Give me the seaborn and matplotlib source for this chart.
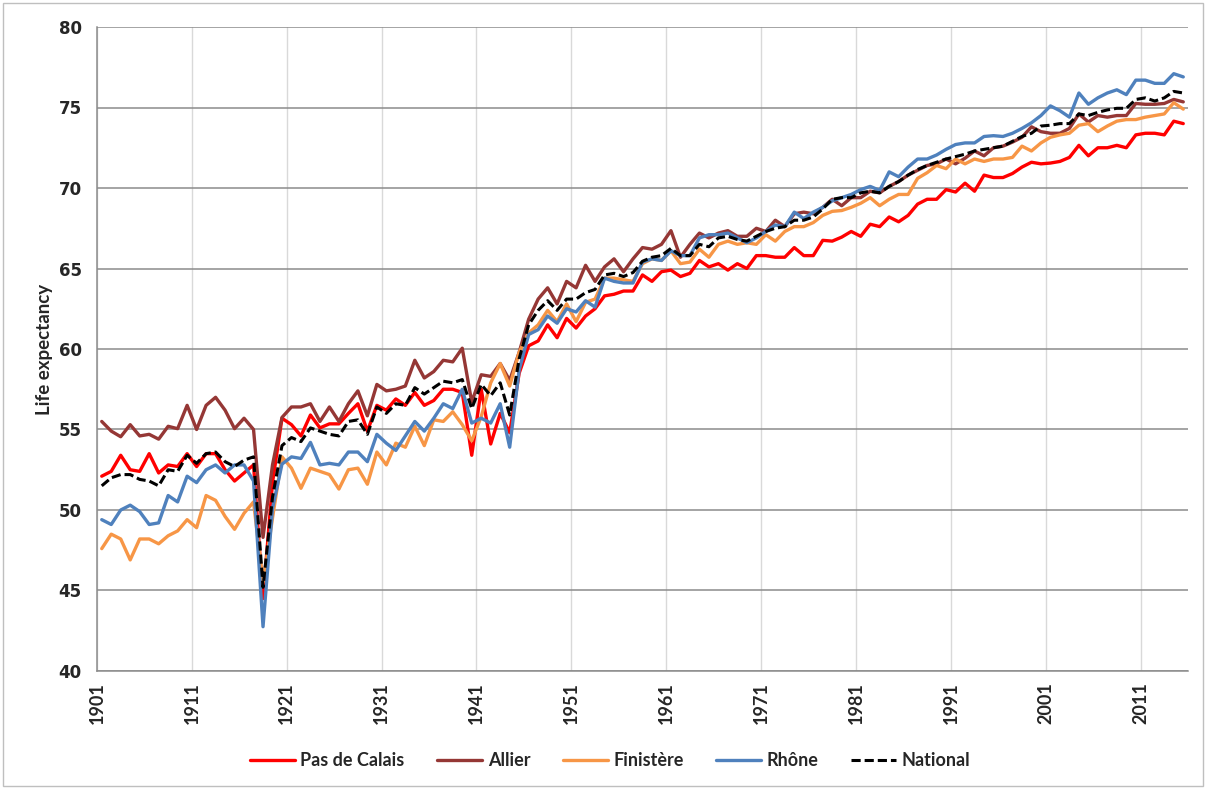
import numpy as np
import pandas as pd
import seaborn as sns
import matplotlib.pyplot as plt
from matplotlib.patches import Rectangle

# Life expectancy by department, 1901-2015
years = list(range(1901, 2016))

pas_de_calais = [
    52.1, 52.4, 53.4, 52.5, 52.4, 53.5, 52.3, 52.8, 52.7, 53.5,
    52.7, 53.5, 53.5, 52.5, 51.8, 52.3, 52.8, 44.5, 51.7, 55.7,
    55.3, 54.6, 55.9, 55.1, 55.35, 55.35, 56.0, 56.6, 54.9, 56.5,
    56.2, 56.9, 56.5, 57.3, 56.5, 56.8, 57.5, 57.5, 57.3, 53.4,
    57.5, 54.1, 56.0, 54.8, 58.5, 60.2, 60.5, 61.5, 60.7, 61.9,
    61.3, 62.05, 62.5, 63.3, 63.4, 63.6, 63.6, 64.6, 64.2, 64.8,
    64.9, 64.5, 64.7, 65.5, 65.1, 65.3, 64.9, 65.3, 65.0, 65.8,
    65.8, 65.7, 65.7, 66.3, 65.8, 65.8, 66.75, 66.7, 66.95, 67.3,
    67.0, 67.75, 67.6, 68.2, 67.9, 68.3, 69.0, 69.3, 69.3, 69.9,
    69.75, 70.3, 69.8, 70.8, 70.65, 70.65, 70.9, 71.3, 71.6, 71.5,
    71.55, 71.65, 71.9, 72.65, 72.0, 72.5, 72.5, 72.65, 72.5, 73.3,
    73.4, 73.4, 73.3, 74.15, 74.0]

allier = [
    55.5, 54.9, 54.55, 55.3, 54.6, 54.7, 54.4, 55.2, 55.05, 56.5,
    55.0, 56.5, 57.0, 56.2, 55.05, 55.7, 55.0, 48.3, 52.8, 55.75,
    56.4, 56.4, 56.6, 55.5, 56.4, 55.5, 56.6, 57.4, 55.85, 57.8,
    57.4, 57.5, 57.7, 59.3, 58.2, 58.6, 59.3, 59.2, 60.05, 56.7,
    58.4, 58.3, 59.1, 58.05, 59.8, 61.85, 63.1, 63.8, 62.8, 64.2,
    63.8, 65.2, 64.2, 65.1, 65.6, 64.8, 65.6, 66.3, 66.2, 66.5,
    67.35, 65.7, 66.5, 67.2, 66.9, 67.2, 67.35, 67.0, 67.0, 67.5,
    67.3, 68.0, 67.6, 68.4, 68.5, 68.4, 68.8, 69.3, 68.9, 69.4,
    69.4, 69.8, 69.7, 70.1, 70.4, 70.8, 71.1, 71.4, 71.5, 71.8,
    71.5, 71.85, 72.3, 72.0, 72.5, 72.6, 72.85, 73.15, 73.8, 73.5,
    73.4, 73.4, 73.7, 74.6, 74.1, 74.5, 74.4, 74.5, 74.5, 75.25,
    75.2, 75.2, 75.25, 75.5, 75.35]

finistere = [
    47.6, 48.5, 48.2, 46.9, 48.2, 48.2, 47.9, 48.4, 48.7, 49.4,
    48.9, 50.9, 50.6, 49.6, 48.8, 49.8, 50.5, 45.5, 49.5, 53.3,
    52.6, 51.35, 52.6, 52.4, 52.2, 51.3, 52.5, 52.6, 51.6, 53.6,
    52.8, 54.15, 53.9, 55.2, 54.0, 55.6, 55.5, 56.1, 55.3, 54.3,
    55.8, 57.9, 59.1, 57.7, 59.8, 61.0, 61.5, 62.4, 61.7, 62.8,
    61.7, 62.9, 63.1, 64.4, 64.4, 64.3, 64.2, 65.3, 65.6, 65.5,
    66.1, 65.3, 65.4, 66.2, 65.7, 66.5, 66.7, 66.5, 66.6, 66.5,
    67.1, 66.7, 67.3, 67.6, 67.6, 67.85, 68.3, 68.55, 68.6, 68.8,
    69.05, 69.4, 68.9, 69.3, 69.6, 69.6, 70.6, 70.95, 71.4, 71.2,
    71.8, 71.5, 71.8, 71.65, 71.8, 71.8, 71.9, 72.6, 72.3, 72.8,
    73.15, 73.3, 73.4, 73.9, 74.0, 73.5, 73.85, 74.15, 74.25, 74.25,
    74.4, 74.5, 74.6, 75.3, 74.9]

rhone = [
    49.4, 49.1, 50.0, 50.3, 49.9, 49.1, 49.2, 50.9, 50.5, 52.1,
    51.7, 52.5, 52.8, 52.3, 52.8, 52.8, 51.8, 42.75, 50.1, 52.85,
    53.3, 53.2, 54.2, 52.8, 52.9, 52.8, 53.6, 53.6, 53.0, 54.7,
    54.15, 53.7, 54.6, 55.5, 54.9, 55.7, 56.6, 56.3, 57.5, 55.4,
    55.7, 55.4, 56.6, 53.9, 58.7, 60.9, 61.2, 62.05, 61.6, 62.5,
    62.3, 63.0, 62.6, 64.4, 64.2, 64.1, 64.1, 65.4, 65.6, 65.5,
    66.1, 65.8, 65.8, 66.9, 67.1, 67.1, 67.2, 66.9, 66.6, 66.9,
    67.3, 67.7, 67.6, 68.5, 68.1, 68.5, 68.8, 69.2, 69.4, 69.6,
    69.9, 70.1, 69.85, 71.0, 70.7, 71.3, 71.8, 71.8, 72.05, 72.4,
    72.7, 72.8, 72.8, 73.2, 73.25, 73.2, 73.4, 73.7, 74.05, 74.5,
    75.1, 74.8, 74.4, 75.9, 75.2, 75.6, 75.9, 76.1, 75.8, 76.7,
    76.7, 76.5, 76.5, 77.1, 76.9]

national = [
    51.5, 52.0, 52.2, 52.2, 51.9, 51.8, 51.5, 52.5, 52.4, 53.4,
    52.9, 53.5, 53.6, 53.0, 52.7, 53.1, 53.3, 45.2, 50.8, 54.0,
    54.5, 54.25, 55.1, 54.9, 54.7, 54.6, 55.5, 55.6, 54.7, 56.4,
    56.0, 56.6, 56.5, 57.6, 57.2, 57.6, 58.0, 57.9, 58.1, 56.3,
    57.8, 57.1, 57.9, 55.9, 59.4, 61.5, 62.4, 63.0, 62.4, 63.1,
    63.1, 63.5, 63.7, 64.6, 64.7, 64.5, 64.75, 65.45, 65.7, 65.8,
    66.25, 65.8, 65.8, 66.5, 66.35, 66.9, 67.0, 66.8, 66.7, 67.0,
    67.3, 67.5, 67.6, 68.0, 68.0, 68.2, 68.7, 69.3, 69.4, 69.4,
    69.7, 69.8, 69.7, 70.1, 70.4, 70.8, 71.15, 71.4, 71.6, 71.8,
    71.95, 72.1, 72.3, 72.4, 72.5, 72.6, 72.9, 73.2, 73.4, 73.85,
    73.9, 74.0, 74.0, 74.6, 74.5, 74.7, 74.85, 74.95, 74.95, 75.5,
    75.6, 75.4, 75.6, 76.0, 75.9]

regions = ['Pas de Calais', 'Allier', 'Finistère', 'Rhône', 'National']
colors = ['#ff0000', '#953735', '#f79646', '#4f81bd', '#000000']
series = [pas_de_calais, allier, finistere, rhone, national]

frames = []
for name, vals in zip(regions, series):
    assert len(vals) == len(years), name
    # category axis: each year sits in the middle of its slot
    frames.append(pd.DataFrame({'Year': years, 'pos': np.arange(len(years)) + 0.5,
                                'Life expectancy': vals, 'Region': name}))
df = pd.concat(frames, ignore_index=True)

sns.set_style('white')
plt.rcParams['font.family'] = ['Lato', 'DejaVu Sans']

W, H = 1207, 789
fig = plt.figure(figsize=(W / 100, H / 100), dpi=100)
ax = fig.add_axes([97 / W, 1 - 671 / H, (1188 - 97) / W, (671 - 27) / H])

sns.lineplot(data=df, x='pos', y='Life expectancy', hue='Region', style='Region',
             hue_order=regions, style_order=regions, palette=dict(zip(regions, colors)),
             dashes={'Pas de Calais': '', 'Allier': '', 'Finistère': '', 'Rhône': '',
                     'National': (3, 1.3)},
             linewidth=2.4, legend=False, ax=ax)
ax.get_lines()[4].set_linewidth(2.2)

ax.set_xlim(0, len(years))
ax.set_ylim(40, 80)
ax.set_yticks(range(40, 81, 5))
tick_pos = np.arange(0, len(years), 10)
ax.set_xticks(tick_pos)
ax.set_xticklabels([str(years[i]) for i in tick_pos], rotation=90,
                   fontsize=13, fontweight='bold')
for lab in ax.get_yticklabels():
    lab.set_fontfamily('DejaVu Sans')
    lab.set_fontweight('bold')
    lab.set_fontsize(12)

ax.grid(axis='y', color='#8c8c8c', linewidth=1.1)
ax.grid(axis='x', color='#d9d9d9', linewidth=1.0)
ax.set_axisbelow(True)
for s in ['top', 'right']:
    ax.spines[s].set_visible(False)
for s in ['left', 'bottom']:
    ax.spines[s].set_color('#8c8c8c')
    ax.spines[s].set_linewidth(1.1)
ax.tick_params(axis='both', direction='out', length=5, width=1.1, color='#8c8c8c')
ax.tick_params(axis='x', pad=3)
ax.tick_params(axis='y', pad=6)

ax.set_xlabel('')
ax.set_ylabel('Life expectancy', fontsize=13.5, fontweight='bold')
ax.yaxis.set_label_coords((53 - 97) / (1188 - 97), 0.5)

handles = ax.get_lines()[:5]
fig.legend(handles, regions, loc='center', bbox_to_anchor=(610 / W, 1 - 761 / H),
           ncol=5, frameon=False, handlelength=2.5, handletextpad=0.3,
           columnspacing=1.8, prop={'family': 'Lato', 'weight': 'bold', 'size': 13})

fig.patches.append(Rectangle((3 / W, 3 / H), 1 - 7 / W, 1 - 6 / H, transform=fig.transFigure,
                             fill=False, edgecolor='#bfbfbf', linewidth=1.0))

fig.savefig('out.png', dpi=100)
